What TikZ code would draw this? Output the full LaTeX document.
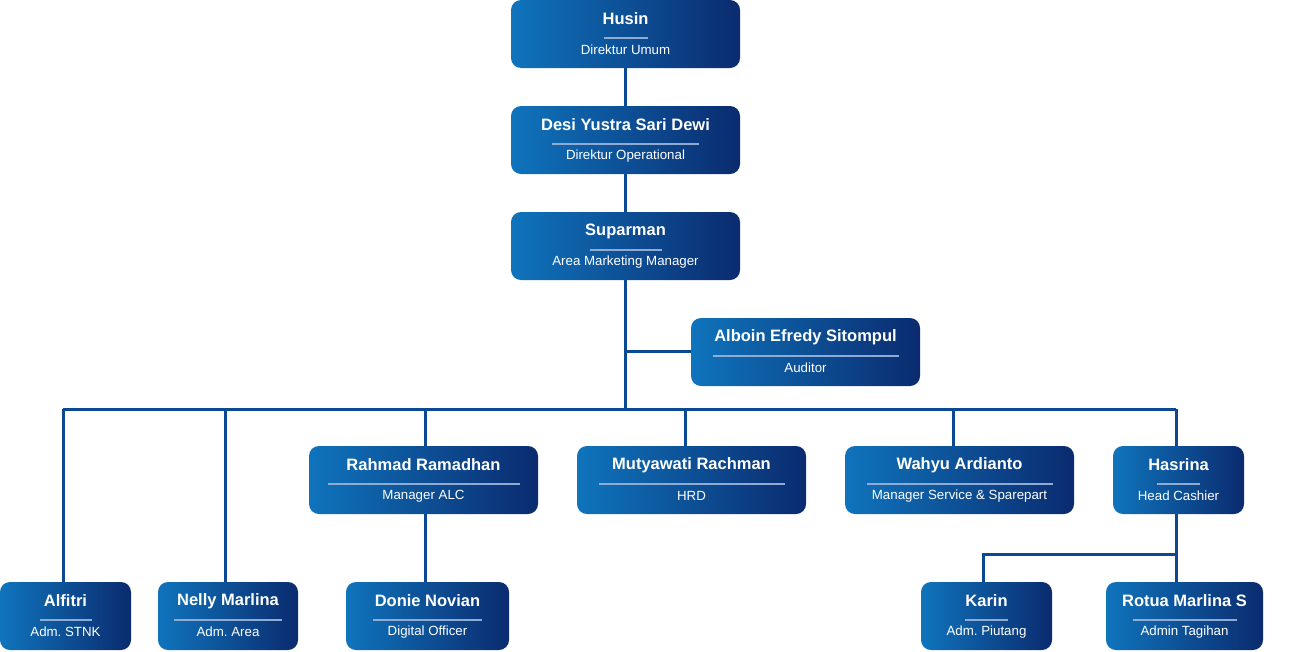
\documentclass[tikz,border=0pt]{standalone}
\usepackage{fontspec}
\setmainfont{Liberation Sans}
\frenchspacing
\definecolor{cL}{HTML}{0F74BC}
\definecolor{cR}{HTML}{0B2B6F}
\definecolor{sepc}{HTML}{8FAAD3}
\definecolor{linec}{HTML}{0B4A93}
\tikzset{
  card/.style={rounded corners=10pt, left color=cL, right color=cR, draw=none, inner sep=0pt, minimum height=68},
  nametext/.style={text=white, font=\fontsize{16.5}{18}\selectfont\bfseries, inner sep=0pt},
  subtext/.style={text=white, font=\fontsize{13.3}{15}\selectfont, inner sep=0pt},
  sep/.style={draw=sepc, line width=2pt},
  conn/.style={draw=linec, line width=3pt}
}
% id, center x, top y, width, name, subtitle, separator width
\newcommand{\card}[7]{%
  \node[card, minimum width=#4] (#1) at (#2,#3+34) {};
  \node[nametext] (#1-n) at (#2,#3+19) {#5};
  \draw[sep] (#2-#7/2,#3+38) -- (#2+#7/2,#3+38);
  \node[subtext] (#1-s) at (#2,#3+50) {#6};
}
\begin{document}
\begin{tikzpicture}[x=1pt,y=-1pt]
\useasboundingbox (0,0) rectangle (1313,651);
\coordinate (bus) at (625,409);
\coordinate (busL) at (63,409);
\coordinate (busR) at (1176,409);
\coordinate (aud) at (625,351);
\coordinate (hsplit) at (1176,554);
\coordinate (kk) at (983,554);

\card{husin}{625.5}{0}{229}{Husin}{Direktur Umum}{44}
\card{desi}{625.5}{106}{229}{Desi Yustra Sari Dewi}{Direktur Operational}{147}
\card{sup}{625.5}{212}{229}{Suparman}{Area Marketing Manager}{72}
\card{alb}{805.5}{318}{229}{Alboin Efredy Sitompul}{Auditor}{186}
\card{rah}{423.5}{446}{229}{Rahmad Ramadhan}{Manager ALC}{192}
\card{mut}{691.5}{446}{229}{Mutyawati Rachman}{HRD}{186}
\card{wah}{959.5}{446}{229}{Wahyu Ardianto}{Manager Service \& Sparepart}{186}
\card{has}{1178.5}{446}{131}{Hasrina}{Head Cashier}{43}
\card{alf}{65.5}{582}{131}{Alfitri}{Adm. STNK}{52}
\card{nel}{228}{582}{140}{Nelly Marlina}{Adm. Area}{108}
\card{don}{427.5}{582}{163}{Donie Novian}{Digital Officer}{109}
\card{kar}{986.5}{582}{131}{Karin}{Adm. Piutang}{43}
\card{rot}{1184.5}{582}{157}{Rotua Marlina S}{Admin Tagihan}{104}

\draw[conn] (husin.south -| 625,0) -- (desi.north -| 625,0);
\draw[conn] (desi.south -| 625,0) -- (sup.north -| 625,0);
\draw[conn] (sup.south -| 625,0) -- (bus);
\draw[conn] (aud) -- (alb.west |- aud);
\draw[conn] (busL) -- (busR);
\draw[conn] (busL) -- (alf.north -| busL);
\draw[conn] (225,409) -- (nel.north -| 225,0);
\draw[conn] (425,409) -- (rah.north -| 425,0);
\draw[conn] (685,409) -- (mut.north -| 685,0);
\draw[conn] (953,409) -- (wah.north -| 953,0);
\draw[conn] (busR) -- (has.north -| busR);
\draw[conn] (rah.south -| 425,0) -- (don.north -| 425,0);
\draw[conn] (has.south -| busR) -- (rot.north -| busR);
\draw[conn] (hsplit) -- (kk) -- (kar.north -| kk);
\end{tikzpicture}
\end{document}
